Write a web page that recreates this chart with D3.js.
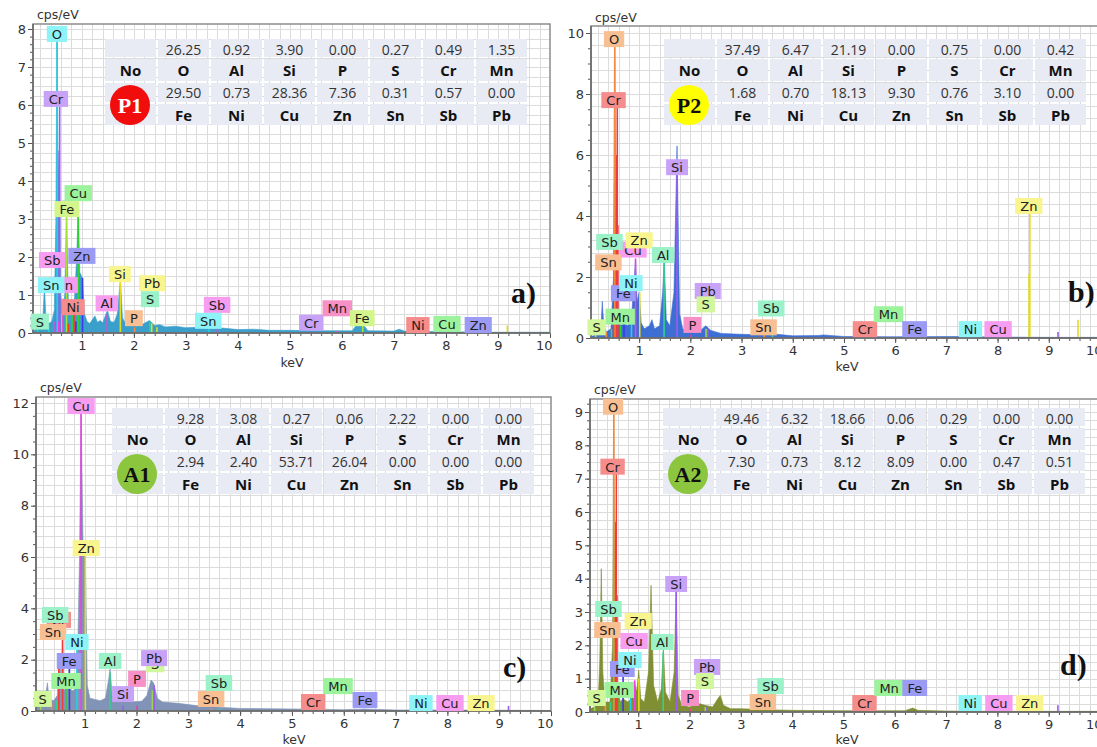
<!DOCTYPE html>
<html><head><meta charset="utf-8">
<script src="https://cdn.jsdelivr.net/npm/d3@7/dist/d3.min.js"></script>
<style>body{margin:0;background:#fff}svg{display:block}</style>
</head><body>
<svg id="chart" width="1097" height="747"></svg>
<script>
// ---------------- DATA ----------------
const xTicks = [1,2,3,4,5,6,7,8,9,10];
const yTicksP1 = [0,1,2,3,4,5,6,7,8];
const yTicksP2 = [0,2,4,6,8,10];
const yTicksA1 = [0,2,4,6,8,10,12];
const yTicksA2 = [0,1,2,3,4,5,6,7,8,9];

const tableElemsTop = ["O","Al","Si","P","S","Cr","Mn"];
const tableElemsBottom = ["Fe","Ni","Cu","Zn","Sn","Sb","Pb"];
const valuesP1Top = ["26.25","0.92","3.90","0.00","0.27","0.49","1.35"];
const valuesP1Bottom = ["29.50","0.73","28.36","7.36","0.31","0.57","0.00"];
const valuesP2Top = ["37.49","6.47","21.19","0.00","0.75","0.00","0.42"];
const valuesP2Bottom = ["1.68","0.70","18.13","9.30","0.76","3.10","0.00"];
const valuesA1Top = ["9.28","3.08","0.27","0.06","2.22","0.00","0.00"];
const valuesA1Bottom = ["2.94","2.40","53.71","26.04","0.00","0.00","0.00"];
const valuesA2Top = ["49.46","6.32","18.66","0.06","0.29","0.00","0.00"];
const valuesA2Bottom = ["7.30","0.73","8.12","8.09","0.00","0.47","0.51"];

// spectra: [keV, cps/eV]
const specP1 = [[0.06,0.05],[0.12,0.1],[0.2,0.15],[0.25,0.4],[0.28,1.25],[0.31,0.35],[0.36,0.25],[0.42,0.3],[0.47,0.6],[0.5,3.0],[0.52,7.8],[0.545,4.0],[0.565,4.8],[0.59,1.0],[0.63,0.6],[0.67,1.0],[0.705,3.1],[0.74,0.8],[0.8,0.5],[0.85,0.7],[0.9,2.0],[0.93,3.3],[0.96,1.6],[1.01,1.45],[1.05,0.5],[1.1,0.3],[1.15,0.25],[1.2,0.35],[1.25,0.45],[1.3,0.28],[1.35,0.33],[1.4,0.27],[1.49,0.6],[1.55,0.3],[1.62,0.28],[1.68,0.5],[1.74,1.4],[1.78,0.4],[1.85,0.22],[1.95,0.25],[2.05,0.18],[2.15,0.22],[2.3,0.33],[2.4,0.2],[2.5,0.22],[2.6,0.16],[2.8,0.18],[3.0,0.14],[3.2,0.15],[3.5,0.11],[3.7,0.13],[4.0,0.09],[4.3,0.1],[4.6,0.07],[5.0,0.07],[5.5,0.06],[6.2,0.06],[6.27,0.2],[6.42,0.2],[6.5,0.06],[7.0,0.05],[7.1,0.1],[7.2,0.05],[8.0,0.03],[9.0,0.02],[10,0.02]];
const specP2 = [[0.06,0.05],[0.15,0.1],[0.22,0.2],[0.26,0.5],[0.28,1.2],[0.31,0.4],[0.36,0.2],[0.45,0.3],[0.5,2.0],[0.52,9.9],[0.545,4.0],[0.565,6.0],[0.59,1.0],[0.63,0.4],[0.7,0.5],[0.78,0.4],[0.85,0.7],[0.9,1.8],[0.93,2.6],[0.96,1.2],[1.0,1.5],[1.04,0.5],[1.1,0.3],[1.2,0.4],[1.25,0.6],[1.3,0.3],[1.4,0.4],[1.46,1.5],[1.49,2.6],[1.53,0.6],[1.6,0.4],[1.68,1.5],[1.74,6.3],[1.79,0.8],[1.85,0.3],[2.0,0.2],[2.2,0.25],[2.3,0.4],[2.4,0.25],[2.6,0.15],[3.0,0.12],[3.5,0.1],[3.7,0.12],[4.0,0.07],[4.5,0.08],[4.6,0.1],[5.0,0.05],[6.0,0.04],[7.1,0.05],[8.0,0.03],[9.0,0.02],[10,0.02]];
const specA1 = [[0.06,0.2],[0.15,0.3],[0.22,0.4],[0.26,0.8],[0.28,1.1],[0.31,0.5],[0.4,0.4],[0.47,0.6],[0.52,2.0],[0.55,1.0],[0.57,2.8],[0.6,0.8],[0.65,0.9],[0.7,1.6],[0.74,0.8],[0.8,0.8],[0.86,1.8],[0.9,6.0],[0.93,11.8],[0.97,6.3],[1.01,6.3],[1.05,1.0],[1.1,0.5],[1.2,0.45],[1.3,0.4],[1.4,0.5],[1.46,1.2],[1.49,1.65],[1.53,0.6],[1.6,0.4],[1.74,0.45],[1.9,0.35],[2.1,0.38],[2.2,0.6],[2.28,1.2],[2.33,1.1],[2.4,0.5],[2.5,0.35],[2.8,0.3],[3.2,0.2],[3.6,0.15],[4.0,0.1],[5.0,0.08],[5.5,0.07],[6.0,0.05],[6.4,0.08],[7.0,0.04],[8.0,0.04],[9.0,0.03],[10,0.02]];
const specA2 = [[0.06,0.1],[0.15,0.15],[0.22,0.3],[0.25,1.5],[0.28,4.3],[0.31,1.2],[0.35,0.3],[0.45,0.3],[0.5,2.0],[0.52,9.0],[0.545,3.0],[0.565,5.7],[0.59,0.8],[0.65,0.3],[0.7,0.4],[0.8,0.3],[0.86,0.4],[0.93,0.9],[0.97,0.6],[1.01,1.25],[1.05,0.4],[1.12,0.3],[1.2,1.2],[1.25,3.8],[1.3,0.8],[1.38,0.3],[1.45,0.7],[1.49,1.9],[1.53,0.6],[1.62,0.3],[1.7,1.2],[1.74,3.7],[1.78,0.5],[1.85,0.2],[2.0,0.15],[2.1,0.2],[2.2,0.25],[2.3,0.2],[2.45,0.15],[2.55,0.4],[2.6,0.5],[2.66,0.2],[2.8,0.1],[3.0,0.1],[3.5,0.07],[4.0,0.05],[5.0,0.04],[6.2,0.04],[6.35,0.12],[6.45,0.05],[7.0,0.03],[8.0,0.02],[10,0.02]];

// element marker lines: [element, keV, height]
const linesP1 = [["S",0.15,0.15],["Sn",0.36,0.2],["Sb",0.46,0.3],["Cr",0.5,0.6],["O",0.525,7.9],["Cr",0.565,4.8],["Cr",0.573,6.2],["Mn",0.556,0.3],["Fe",0.615,0.5],["Mn",0.637,0.9],["Fe",0.705,3.1],["Ni",0.743,0.25],["Cu",0.811,0.6],["Ni",0.851,0.8],["Zn",0.884,0.3],["Cu",0.93,3.4],["Zn",1.012,1.45],["Al",1.487,0.5],["Si",1.74,1.35],["P",2.013,0.15],["S",2.307,0.3],["Pb",2.342,0.25],["Pb",2.443,0.15],["Sn",3.444,0.1],["Sb",3.604,0.1],["Cr",5.41,0.05],["Mn",5.9,0.05],["Fe",6.4,0.2],["Ni",7.47,0.03],["Cu",8.04,0.05],["Zn",8.63,0.03],["Pb",9.18,0.2]];
const linesP2 = [["S",0.15,0.15],["Sn",0.36,0.2],["Sb",0.46,0.3],["O",0.525,9.9],["Cr",0.5,0.8],["Cr",0.565,6.0],["Cr",0.573,7.8],["Cr",0.585,3.7],["Mn",0.637,0.4],["Fe",0.705,0.5],["Ni",0.851,0.6],["Cu",0.93,2.6],["Zn",1.012,1.5],["Al",1.487,2.5],["Si",1.74,5.6],["P",2.013,0.1],["S",2.307,0.3],["Pb",2.342,0.3],["Sn",3.444,0.1],["Sb",3.604,0.1],["Zn",8.615,2.1],["Zn",8.63,4.3],["Pb",9.18,0.2],["Zn",9.57,0.6]];
const linesA1 = [["S",0.15,0.2],["Sn",0.36,0.3],["Sb",0.46,0.4],["Cr",0.5,2.0],["Cr",0.573,2.8],["Mn",0.637,1.0],["Fe",0.705,1.7],["Ni",0.851,2.5],["Cu",0.93,11.8],["Zn",1.012,6.3],["Al",1.487,1.5],["Si",1.74,0.2],["P",2.013,0.2],["S",2.307,0.8],["Pb",2.342,1.0],["Sn",3.444,0.1],["Sb",3.604,0.1],["Pb",9.18,0.2]];
const linesA2 = [["S",0.15,0.15],["Sn",0.36,0.2],["Sb",0.46,0.3],["O",0.525,9.0],["Cr",0.565,5.7],["Cr",0.573,7.3],["Cr",0.585,3.5],["Mn",0.637,0.3],["Fe",0.705,1.1],["Ni",0.851,0.5],["Cu",0.93,0.95],["Zn",1.012,1.0],["Al",1.487,1.8],["Si",1.74,3.6],["P",2.013,0.1],["S",2.307,0.15],["Pb",2.342,0.15],["Pb",9.18,0.2]];

// labels: [element, keV, cps, colour key] in drawing order
const labelsP1 = [["Mn",0.64,1.26,"pink"],["Sn",0.41,1.26,"cyan"],["Sb",0.43,1.92,"pink"],["O",0.52,7.87,"cyan"],["Cr",0.50,6.16,"purple"],["Cu",0.93,3.68,"green"],["Fe",0.71,3.26,"ygreen"],["Zn",1.0,2.03,"blue"],["Ni",0.83,0.68,"salmon"],["Al",1.48,0.78,"pink"],["Si",1.73,1.55,"yellow"],["Pb",2.35,1.31,"yellow"],["S",2.31,0.89,"mint"],["P",2.0,0.39,"orange"],["S",0.19,0.3,"mint"],["Sb",3.6,0.74,"pink"],["Sn",3.43,0.32,"cyan"],["Cr",5.41,0.27,"purple"],["Mn",5.91,0.65,"rose"],["Fe",6.39,0.39,"ygreen"],["Ni",7.46,0.21,"salmon"],["Cu",8.02,0.24,"green"],["Zn",8.62,0.21,"blue"]];
const labelsP2 = [["Cu",0.88,2.9,"pink"],["Zn",1.0,3.2,"yellow"],["Sb",0.42,3.15,"mint"],["Sn",0.40,2.48,"orange"],["O",0.51,9.8,"orange"],["Cr",0.50,7.8,"salmon"],["Si",1.74,5.6,"purple"],["Al",1.47,2.72,"mint"],["Fe",0.69,1.47,"blue"],["Ni",0.84,1.8,"cyan"],["Pb",2.34,1.54,"purple"],["S",2.30,1.1,"lgreen"],["Mn",0.63,0.7,"green"],["S",0.17,0.35,"lgreen"],["P",2.04,0.43,"rose"],["Sb",3.58,0.97,"mint"],["Sn",3.43,0.35,"orange"],["Cr",5.41,0.29,"salmon"],["Mn",5.87,0.78,"green"],["Fe",6.38,0.29,"blue"],["Ni",7.47,0.29,"cyan"],["Cu",8.01,0.29,"pink"],["Zn",8.61,4.33,"yellow"]];
const labelsA1 = [["Cr",0.5,3.55,"salmon"],["Sb",0.43,3.74,"mint"],["Sn",0.39,3.08,"orange"],["Cu",0.93,11.88,"pink"],["Zn",1.03,6.35,"yellow"],["Ni",0.85,2.69,"cyan"],["Fe",0.70,1.95,"blue"],["Al",1.49,1.95,"mint"],["S",2.36,1.82,"lgreen"],["Pb",2.34,2.06,"purple"],["Mn",0.64,1.17,"green"],["P",2.01,1.25,"rose"],["Si",1.74,0.66,"purple"],["S",0.19,0.47,"lgreen"],["Sb",3.59,1.09,"mint"],["Sn",3.44,0.47,"orange"],["Cr",5.41,0.35,"salmon"],["Mn",5.89,0.97,"green"],["Fe",6.41,0.43,"blue"],["Ni",7.49,0.31,"cyan"],["Cu",8.05,0.31,"pink"],["Zn",8.65,0.31,"yellow"]];
const labelsA2 = [["Fe",0.69,1.29,"blue"],["Ni",0.84,1.56,"cyan"],["Sb",0.42,3.09,"mint"],["Sn",0.40,2.46,"orange"],["O",0.51,9.16,"orange"],["Cr",0.50,7.36,"salmon"],["Si",1.74,3.84,"purple"],["Zn",1.0,2.73,"yellow"],["Cu",0.92,2.13,"pink"],["Al",1.47,2.1,"mint"],["Pb",2.34,1.35,"purple"],["S",2.30,0.93,"lgreen"],["Mn",0.63,0.66,"green"],["S",0.19,0.42,"lgreen"],["P",2.01,0.42,"rose"],["Sb",3.58,0.78,"mint"],["Sn",3.43,0.3,"orange"],["Cr",5.41,0.27,"salmon"],["Mn",5.89,0.72,"green"],["Fe",6.39,0.72,"blue"],["Ni",7.47,0.27,"cyan"],["Cu",8.03,0.27,"pink"],["Zn",8.63,0.27,"yellow"]];

// ---------------- STYLE ----------------
const boxColor = {cyan:"#8ef3f6",purple:"#c8a2f6",green:"#9cf39c",ygreen:"#d4f58c",blue:"#9b9bf6",pink:"#f69cf1",salmon:"#f68d8d",yellow:"#f8f48e",mint:"#9bf2c9",orange:"#f8bf92",rose:"#f890c8",lgreen:"#d2f69b"};
const lineColor = {cyan:"#22d2e6",purple:"#9b5cf0",green:"#30d030",ygreen:"#a8e03a",blue:"#3a3ae8",pink:"#ee40e6",salmon:"#f03c3c",yellow:"#e6dc1e",mint:"#2fd28e",orange:"#f58a3a",rose:"#f23c96",lgreen:"#9ad84a"};

const panels = [
  {id:"a", spec:specP1, lines:linesP1, labels:labelsP1, top:valuesP1Top, bot:valuesP1Bottom, yTicks:yTicksP1,
   fill:"#3a9fca", left:33, right:550, bottom:333, yRef:8, yRefPx:29, frameTop:24, yMinor:0.2, yGrid:0.25,
   tx:104, ty:38, badge:"P1", badgeFill:"#f20d0d", badgeText:"#fff", letter:"a)", lx:511, ly:303, cpsY:19, keVx:292, keVy:367},
  {id:"b", spec:specP2, lines:linesP2, labels:labelsP2, top:valuesP2Top, bot:valuesP2Bottom, yTicks:yTicksP2,
   fill:"#3d6ed3", left:591, right:1100, bottom:338, yRef:10, yRefPx:33, frameTop:26, yMinor:0.5, yGrid:0.4,
   tx:663, ty:38, badge:"P2", badgeFill:"#ffff00", badgeText:"#111", letter:"b)", lx:1068, ly:302, cpsY:22, keVx:847, keVy:371},
  {id:"c", spec:specA1, lines:linesA1, labels:labelsA1, top:valuesA1Top, bot:valuesA1Bottom, yTicks:yTicksA1,
   fill:"#8193b6", left:36, right:551, bottom:711, yRef:12, yRefPx:403, frameTop:397, yMinor:0.5, yGrid:0.4,
   tx:111, ty:407, badge:"A1", badgeFill:"#8cc63e", badgeText:"#111", letter:"c)", lx:503, ly:677, cpsY:392, keVx:294, keVy:744},
  {id:"d", spec:specA2, lines:linesA2, labels:labelsA2, top:valuesA2Top, bot:valuesA2Bottom, yTicks:yTicksA2,
   fill:"#818f34", left:590, right:1100, bottom:712, yRef:9, yRefPx:412, frameTop:399, yMinor:0.25, yGrid:0.25,
   tx:662, ty:407, badge:"A2", badgeFill:"#8cc63e", badgeText:"#111", letter:"d)", lx:1060, ly:675, cpsY:394, keVx:847, keVy:744}
];

const svg = d3.select("#chart");
const axisFont = "DejaVu Sans, Verdana, sans-serif";

panels.forEach(drawPanel);

function drawPanel(p){
  const x = d3.scaleLinear().domain([0.06,10]).range([p.left,p.right]);
  const y = d3.scaleLinear().domain([0,p.yRef]).range([p.bottom,p.yRefPx]);
  const yTopVal = y.invert(p.frameTop);
  const g = svg.append("g");
  const clipId = "clip-"+p.id;
  svg.append("defs").append("clipPath").attr("id",clipId).append("rect")
    .attr("x",p.left).attr("y",p.frameTop).attr("width",p.right-p.left).attr("height",p.bottom-p.frameTop);

  // grid
  const grid = g.append("g").attr("clip-path",`url(#${clipId})`).attr("shape-rendering","crispEdges");
  const vx = d3.range(0.2,10,0.2);
  grid.selectAll("line.v").data(vx).join("line")
    .attr("x1",d=>Math.round(x(d))+0.5).attr("x2",d=>Math.round(x(d))+0.5)
    .attr("y1",p.frameTop).attr("y2",p.bottom).attr("stroke","#dcdcdc").attr("stroke-width",1);
  const hy = d3.range(p.yGrid, yTopVal, p.yGrid);
  grid.selectAll("line.h").data(hy).join("line")
    .attr("y1",d=>Math.round(y(d))+0.5).attr("y2",d=>Math.round(y(d))+0.5)
    .attr("x1",p.left).attr("x2",p.right).attr("stroke","#dcdcdc").attr("stroke-width",1);

  // spectrum
  const plot = g.append("g").attr("clip-path",`url(#${clipId})`);
  plot.append("path").datum(p.spec)
    .attr("d", d3.area().x(d=>x(d[0])).y0(y(0)).y1(d=>y(d[1])))
    .attr("fill",p.fill).attr("stroke",p.fill).attr("stroke-width",0.6);

  // element lines
  const colorOf = el => { const l = p.labels.find(q=>q[0]===el); return l ? lineColor[l[3]] : "#888"; };
  plot.selectAll("line.el").data(p.lines).join("line")
    .attr("x1",d=>x(d[1])).attr("x2",d=>x(d[1]))
    .attr("y1",y(0)).attr("y2",d=>y(d[2]))
    .attr("stroke",d=>colorOf(d[0])).attr("stroke-width",1.6);

  // axes
  const ax = g.append("g").attr("transform",`translate(0,${p.bottom})`)
    .call(d3.axisBottom(x).tickValues(xTicks).tickSize(5).tickFormat(d3.format("d")));
  const axm = g.append("g").attr("transform",`translate(0,${p.bottom})`)
    .call(d3.axisBottom(x).tickValues(d3.range(0.2,10,0.2)).tickSize(3).tickFormat(""));
  const ay = g.append("g").attr("transform",`translate(${p.left},0)`)
    .call(d3.axisLeft(y).tickValues(p.yTicks).tickSize(5).tickFormat(d3.format("d")));
  const aym = g.append("g").attr("transform",`translate(${p.left},0)`)
    .call(d3.axisLeft(y).tickValues(d3.range(0,yTopVal,p.yMinor)).tickSize(3).tickFormat(""));
  [ax,axm,ay,aym].forEach(a=>{
    a.select(".domain").remove();
    a.selectAll("line").attr("stroke","#555");
    a.selectAll("text").attr("font-family",axisFont).attr("font-size",13).attr("fill","#333");
  });
  ax.selectAll(".tick text").filter(d=>d===10).attr("text-anchor","end").attr("dx",2);
  ay.selectAll(".tick text").attr("x",-7);

  // frame
  g.append("rect").attr("x",p.left).attr("y",p.frameTop).attr("width",p.right-p.left).attr("height",p.bottom-p.frameTop)
    .attr("fill","none").attr("stroke","#8c8c8c").attr("stroke-width",1.5);
  g.append("line").attr("x1",p.left).attr("x2",p.left).attr("y1",p.frameTop).attr("y2",p.bottom).attr("stroke","#666").attr("stroke-width",1.5);
  g.append("line").attr("x1",p.left).attr("x2",p.right).attr("y1",p.bottom).attr("y2",p.bottom).attr("stroke","#666").attr("stroke-width",1.5);

  g.append("text").attr("x",p.left+4).attr("y",p.cpsY).text("cps/eV")
    .attr("font-family",axisFont).attr("font-size",12.5).attr("fill","#333");
  g.append("text").attr("x",p.keVx).attr("y",p.keVy).attr("text-anchor","middle").text("keV")
    .attr("font-family",axisFont).attr("font-size",12.5).attr("fill","#333");

  // element labels
  const lg = g.append("g");
  p.labels.forEach(d=>{
    const cx = x(d[1]), cy = y(d[2]);
    const grp = lg.append("g");
    const r = grp.append("rect");
    const t = grp.append("text").attr("x",cx).attr("y",cy+0.5).attr("text-anchor","middle")
      .attr("dominant-baseline","central").attr("font-family",axisFont).attr("font-size",13)
      .attr("fill","#222").text(d[0]);
    const w = t.node().getComputedTextLength()+10;
    r.attr("x",cx-w/2).attr("y",cy-8).attr("width",w).attr("height",16).attr("fill",boxColor[d[3]]);
  });

  // table
  const colW = 53, rowOff = [0,20,44,65,88];
  const tg = g.append("g");
  for(let c=0;c<8;c++){
    for(let r=0;r<4;r++){
      tg.append("rect").attr("x",p.tx+c*colW+1).attr("y",p.ty+rowOff[r]+1)
        .attr("width",colW-2).attr("height",rowOff[r+1]-rowOff[r]-2).attr("fill","#e8eaf4");
    }
  }
  const tableFont = "'Open Sans', 'Noto Sans', sans-serif";
  const rowsText = [
    {vals:[""].concat(p.top), bold:false},
    {vals:["No"].concat(tableElemsTop), bold:true},
    {vals:[""].concat(p.bot), bold:false},
    {vals:[""].concat(tableElemsBottom), bold:true}
  ];
  rowsText.forEach((row,r)=>{
    const cy = p.ty + (rowOff[r]+rowOff[r+1])/2 + (r===0?1:0);
    row.vals.forEach((v,c)=>{
      if(v==="") return;
      tg.append("text").attr("x",p.tx+c*colW+colW/2).attr("y",cy)
        .attr("text-anchor","middle").attr("dominant-baseline","central")
        .attr("font-family",tableFont).attr("font-size",row.bold?15:14)
        .attr("font-weight",row.bold?"bold":"normal").attr("fill",row.bold?"#111":"#333").text(v);
    });
  });
  // badge
  tg.append("circle").attr("cx",p.tx+26).attr("cy",p.ty+67).attr("r",20).attr("fill",p.badgeFill);
  tg.append("text").attr("x",p.tx+26).attr("y",p.ty+67).attr("text-anchor","middle").attr("dominant-baseline","central")
    .attr("font-family","'Liberation Serif','Times New Roman',serif").attr("font-weight","bold").attr("font-size",22)
    .attr("fill",p.badgeText).text(p.badge);

  // panel letter
  g.append("text").attr("x",p.lx).attr("y",p.ly).text(p.letter)
    .attr("font-family","'Liberation Serif','Times New Roman',serif").attr("font-weight","bold").attr("font-size",30).attr("fill","#111");
}
</script>
</body></html>
